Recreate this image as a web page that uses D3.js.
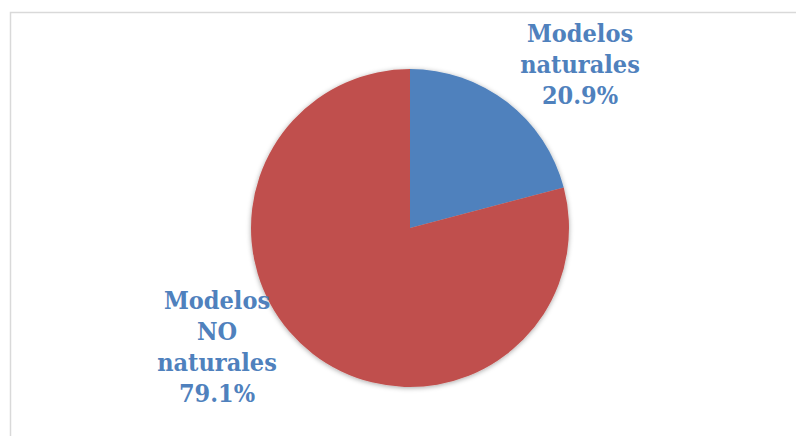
<!DOCTYPE html>
<html>
<head>
<meta charset="utf-8">
<script src="https://cdn.jsdelivr.net/npm/d3@7"></script>
<style>
  body { margin: 0; background: #fff; }
  text { font-family: "DejaVu Serif Condensed", "DejaVu Serif", serif; font-stretch: condensed; font-weight: bold; }
</style>
</head>
<body>
<script>
const categories = ["Modelos naturales", "Modelos NO naturales"]
const values = [20.9, 79.1]
const labelLines = [["Modelos", "naturales", "20.9%"], ["Modelos", "NO", "naturales", "79.1%"]]
const colors = ["#4F81BD", "#C0504D"]

const width = 796, height = 436
const cx = 410, cy = 228, radius = 159

const svg = d3.select('body').append('svg')
    .attr('width', width)
    .attr('height', height)

// marco del gráfico
svg.append('path')
    .attr('d', 'M10.5,' + height + ' L10.5,12.5 L' + width + ',12.5')
    .attr('fill', 'none')
    .attr('stroke', '#d9d9d9')
    .attr('stroke-width', 1.5)

const defs = svg.append('defs')
const filter = defs.append('filter').attr('id', 'sombra')
    .attr('x', '-10%').attr('y', '-10%').attr('width', '120%').attr('height', '120%')
filter.append('feDropShadow')
    .attr('dx', 0).attr('dy', 1)
    .attr('stdDeviation', 2.5)
    .attr('flood-color', '#000')
    .attr('flood-opacity', 0.35)

const pie = d3.pie().sort(null).value(d => d)
const arc = d3.arc().innerRadius(0).outerRadius(radius)

const g = svg.append('g')
    .attr('transform', 'translate(' + cx + ',' + cy + ')')
    .attr('filter', 'url(#sombra)')

g.selectAll('path')
    .data(pie(values))
    .join('path')
    .attr('d', arc)
    .attr('fill', (d, i) => colors[i])

// etiquetas
const labelPos = [[580, 42], [217, 309]]
const lineH = 31

labelLines.forEach((lines, i) => {
    const t = svg.append('text')
        .attr('text-anchor', 'middle')
        .attr('fill', '#4F81BD')
        .style('font-size', '25px')
    lines.forEach((l, j) => {
        t.append('tspan')
            .attr('x', labelPos[i][0])
            .attr('y', labelPos[i][1] + j * lineH)
            .text(l)
    })
})
</script>
</body>
</html>
